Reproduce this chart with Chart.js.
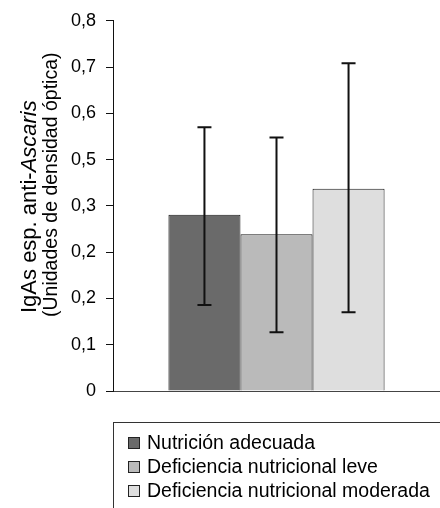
<!DOCTYPE html>
<html>
<head>
<meta charset="utf-8">
<script src="https://cdn.jsdelivr.net/npm/chart.js@4.4.0/dist/chart.umd.min.js"></script>
<style>
  html, body { margin: 0; padding: 0; background: #fff; }
  #wrap { width: 440px; height: 508px; position: relative; }
</style>
</head>
<body>
<div id="wrap"><canvas id="chartCanvas"></canvas></div>
<script>
const groups = ['Nutrición adecuada', 'Deficiencia nutricional leve', 'Deficiencia nutricional moderada'];
const meanValues = [0.381, 0.339, 0.437];
const errorHigh = [0.570, 0.548, 0.708];
const errorLow = [0.186, 0.127, 0.170];
const tickLabels = ['0', '0,1', '0,2', '0,2', '0,3', '0,5', '0,6', '0,7', '0,8'];
const barColors = ['#6a6a6a', '#bababa', '#dedede'];

const fontName = '"Liberation Sans", Arial, sans-serif';

// error bars drawn on top of each bar
const errorBars = {
  id: 'errorBars',
  afterDatasetsDraw(chart) {
    const ctx = chart.ctx;
    const y = chart.scales.y;
    ctx.save();
    ctx.strokeStyle = '#111';
    ctx.lineWidth = 2;
    chart.data.datasets.forEach((ds, i) => {
      const bar = chart.getDatasetMeta(i).data[0];
      const top = y.getPixelForValue(errorHigh[i]);
      const bottom = y.getPixelForValue(errorLow[i]);
      ctx.beginPath();
      ctx.moveTo(bar.x, top);
      ctx.lineTo(bar.x, bottom);
      ctx.moveTo(bar.x - 7, top);
      ctx.lineTo(bar.x + 7, top);
      ctx.moveTo(bar.x - 7, bottom);
      ctx.lineTo(bar.x + 7, bottom);
      ctx.stroke();
    });
    ctx.restore();
  }
};

// two line rotated axis title, with the genus in italics
const axisTitle = {
  id: 'axisTitle',
  afterDraw(chart) {
    const ctx = chart.ctx;
    const startY = chart.chartArea.bottom - 78;
    ctx.save();
    ctx.fillStyle = '#000';
    ctx.textBaseline = 'alphabetic';
    ctx.textAlign = 'left';
    ctx.translate(36, startY);
    ctx.rotate(-Math.PI / 2);
    ctx.font = '22px ' + fontName;
    const part = 'IgAs esp. anti-';
    ctx.fillText(part, 0, 0);
    const w = ctx.measureText(part).width;
    ctx.font = 'italic 22px ' + fontName;
    ctx.fillText('Ascaris', w, 0);
    ctx.font = '19.5px ' + fontName;
    ctx.fillText('(Unidades de densidad óptica)', -4, 21);
    ctx.restore();
  }
};

// boxed legend under the plot
const boxLegend = {
  id: 'boxLegend',
  afterDraw(chart) {
    const ctx = chart.ctx;
    const left = chart.chartArea.left;
    const top = chart.chartArea.bottom + 31;
    ctx.save();
    ctx.strokeStyle = '#333';
    ctx.lineWidth = 1;
    ctx.strokeRect(left + 0.5, top + 0.5, 400, 120);
    ctx.font = '19.5px ' + fontName;
    ctx.textBaseline = 'middle';
    ctx.fillStyle = '#000';
    chart.data.datasets.forEach((ds, i) => {
      const cy = top + 21 + i * 24;
      ctx.fillStyle = ds.backgroundColor;
      ctx.fillRect(left + 15, cy - 6, 12, 12);
      ctx.strokeStyle = '#222';
      ctx.strokeRect(left + 15.5, cy - 5.5, 11, 11);
      ctx.fillStyle = '#000';
      ctx.fillText(ds.label, left + 34, cy + 1);
    });
    ctx.restore();
  }
};

const datasets = groups.map((g, i) => ({
  label: g,
  data: [meanValues[i]],
  backgroundColor: barColors[i],
  borderColor: '#1a1a1a',
  borderWidth: 1,
  barPercentage: 1,
  categoryPercentage: 0.661
}));

let ctx = document.getElementById('chartCanvas').getContext('2d');
let chartInstance = new Chart(ctx, {
  type: 'bar',
  data: { labels: [''], datasets: datasets },
  options: {
    responsive: true,
    maintainAspectRatio: false,
    animation: false,
    layout: { padding: { top: 20, right: 0, bottom: 117, left: 0 } },
    plugins: {
      legend: { display: false },
      tooltip: { enabled: false }
    },
    scales: {
      x: {
        grid: { display: false },
        ticks: { display: false },
        border: { color: '#444', width: 1 },
        afterFit(scale) { scale.height = 0; }
      },
      y: {
        min: 0,
        max: 0.8,
        grid: { display: true, drawOnChartArea: false, drawTicks: true, tickLength: 7, color: '#111' },
        border: { color: '#111', width: 1 },
        ticks: {
          stepSize: 0.1,
          autoSkip: false,
          padding: 10,
          color: '#000',
          font: { family: fontName, size: 18 },
          callback: (v, i) => tickLabels[i]
        },
        afterFit(scale) { scale.width = 113; }
      }
    }
  },
  plugins: [errorBars, axisTitle, boxLegend]
});
</script>
</body>
</html>
